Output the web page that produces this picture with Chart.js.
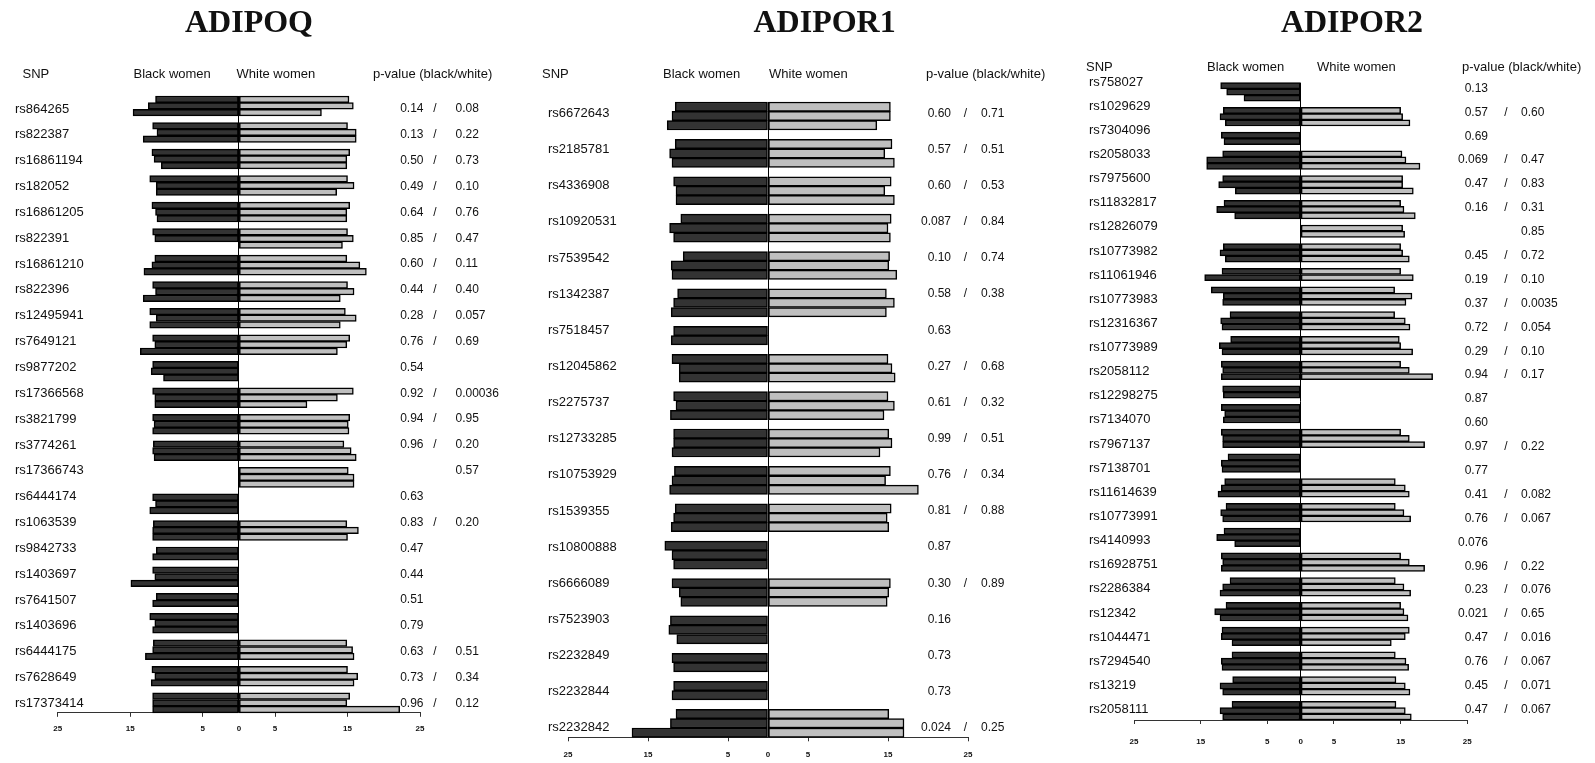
<!DOCTYPE html>
<html>
<head>
<meta charset="utf-8">
<title>Adiponectin gene SNPs – Black and White women</title>
<script src="https://cdn.jsdelivr.net/npm/chart.js@4.4.1/dist/chart.umd.min.js"></script>
<style>
  html, body { margin: 0; padding: 0; background: #ffffff; width: 1595px; height: 763px; overflow: hidden; }
  canvas { position: absolute; top: 0; }
</style>
</head>
<body>
<canvas id="adipoq" width="520" height="763" style="left:0px;width:520px;height:763px"></canvas>
<canvas id="adipor1" width="540" height="763" style="left:520px;width:540px;height:763px"></canvas>
<canvas id="adipor2" width="535" height="763" style="left:1060px;width:535px;height:763px"></canvas>
<script>
// Shared axis tick labels (absolute values on both sides of zero)
const axisTicks = [-25, -15, -5, 0, 5, 15, 25];
const columnHeaders = ['SNP', 'Black women', 'White women', 'p-value (black/white)'];

// ---------------- ADIPOQ ----------------
const adipoqSnps = ['rs864265', 'rs822387', 'rs16861194', 'rs182052', 'rs16861205', 'rs822391',
  'rs16861210', 'rs822396', 'rs12495941', 'rs7649121', 'rs9877202', 'rs17366568', 'rs3821799',
  'rs3774261', 'rs17366743', 'rs6444174', 'rs1063539', 'rs9842733', 'rs1403697', 'rs7641507',
  'rs1403696', 'rs6444175', 'rs7628649', 'rs17373414'];
const adipoqBlack = [[11.5, 12.5, 14.6], [11.9, 11.3, 13.2], [12.0, 11.7, 10.7], [12.3, 11.4, 11.4],
  [12.0, 11.5, 11.3], [11.9, 11.6], [11.6, 12.0, 13.1], [11.9, 11.5, 13.2], [12.3, 11.4, 12.3],
  [11.9, 11.6, 13.6], [11.9, 12.1, 10.4], [11.9, 11.6, 11.6], [11.9, 11.7, 11.9], [11.8, 11.9, 11.7],
  null, [11.9, 11.5, 12.3], [11.8, 11.9, 11.9], [11.4, 11.9], [11.9, 11.6, 14.9], [11.4, 11.9],
  [12.3, 11.6, 11.9], [11.8, 11.9, 12.9], [12.0, 11.6, 12.1], [11.9, 11.9, 11.9]];
const adipoqWhite = [[15.2, 15.8, 11.4], [15.0, 16.2, 16.2], [15.3, 14.9, 14.9], [15.0, 15.9, 13.5],
  [15.3, 14.9, 14.9], [15.0, 15.8, 14.3], [14.9, 16.7, 17.6], [15.0, 15.9, 14.0], [14.7, 16.2, 14.0],
  [15.3, 14.9, 13.6], null, [15.8, 13.6, 9.4], [15.3, 15.1, 15.2], [14.5, 15.5, 16.2],
  [15.1, 15.9, 15.9], null, [14.9, 16.5, 15.0], null, null, null, null,
  [14.9, 15.7, 15.9], [15.0, 16.4, 15.9], [15.3, 14.9, 22.2]];
const adipoqPBlack = ['0.14', '0.13', '0.50', '0.49', '0.64', '0.85', '0.60', '0.44', '0.28', '0.76',
  '0.54', '0.92', '0.94', '0.96', null, '0.63', '0.83', '0.47', '0.44', '0.51', '0.79', '0.63', '0.73', '0.96'];
const adipoqPWhite = ['0.08', '0.22', '0.73', '0.10', '0.76', '0.47', '0.11', '0.40', '0.057', '0.69',
  null, '0.00036', '0.95', '0.20', '0.57', null, '0.20', null, null, null, null, '0.51', '0.34', '0.12'];

// ---------------- ADIPOR1 ----------------
const adipor1Snps = ['rs6672643', 'rs2185781', 'rs4336908', 'rs10920531', 'rs7539542', 'rs1342387',
  'rs7518457', 'rs12045862', 'rs2275737', 'rs12733285', 'rs10753929', 'rs1539355', 'rs10800888',
  'rs6666089', 'rs7523903', 'rs2232849', 'rs2232844', 'rs2232842'];
const adipor1Black = [[11.6, 12.0, 12.6], [11.6, 12.3, 12.0], [11.8, 11.5, 11.5], [10.9, 12.3, 11.8],
  [10.6, 12.1, 12.0], [11.3, 11.8, 12.1], [11.8, 12.1], [12.0, 11.1, 11.1], [11.8, 11.5, 12.2],
  [11.8, 11.8, 12.0], [11.7, 12.0, 12.3], [11.6, 11.8, 12.1], [12.9, 12.0, 11.8], [12.0, 11.1, 10.9],
  [12.2, 12.4, 11.4], [12.0, 11.8], [11.8, 12.0], [11.5, 12.2, 17.0]];
const adipor1White = [[15.3, 15.3, 13.6], [15.5, 14.6, 15.8], [15.4, 14.6, 15.8], [15.4, 15.0, 15.3],
  [15.2, 15.1, 16.1], [14.8, 15.8, 14.8], null, [15.0, 15.5, 15.9], [15.0, 15.8, 14.5],
  [15.1, 15.5, 14.0], [15.3, 14.7, 18.8], [15.4, 14.9, 15.1], null, [15.3, 15.1, 14.9],
  null, null, null, [15.1, 17.0, 17.0]];
const adipor1PBlack = ['0.60', '0.57', '0.60', '0.087', '0.10', '0.58', '0.63', '0.27', '0.61', '0.99',
  '0.76', '0.81', '0.87', '0.30', '0.16', '0.73', '0.73', '0.024'];
const adipor1PWhite = ['0.71', '0.51', '0.53', '0.84', '0.74', '0.38', null, '0.68', '0.32', '0.51',
  '0.34', '0.88', null, '0.89', null, null, null, '0.25'];

// ---------------- ADIPOR2 ----------------
const adipor2Snps = ['rs758027', 'rs1029629', 'rs7304096', 'rs2058033', 'rs7975600', 'rs11832817',
  'rs12826079', 'rs10773982', 'rs11061946', 'rs10773983', 'rs12316367', 'rs10773989', 'rs2058112',
  'rs12298275', 'rs7134070', 'rs7967137', 'rs7138701', 'rs11614639', 'rs10773991', 'rs4140993',
  'rs16928751', 'rs2286384', 'rs12342', 'rs1044471', 'rs7294540', 'rs13219', 'rs2058111'];
const adipor2Black = [[12.0, 11.1, 8.5], [11.6, 12.1, 11.3], [11.9, 11.5], [11.7, 14.1, 14.1],
  [11.7, 12.3, 9.8], [11.5, 12.6, 9.9], null, [11.6, 12.1, 11.3], [11.8, 14.4], [13.4, 11.6, 11.7],
  [10.6, 12.0, 11.8], [10.5, 12.2, 11.8], [11.9, 11.7, 11.9], [11.7, 11.6], [11.9, 11.4, 11.6],
  [11.9, 11.7, 11.7], [10.9, 11.9, 11.8], [11.4, 11.9, 12.4], [11.2, 12.0, 11.7], [11.5, 12.6, 9.9],
  [11.9, 11.7, 11.9], [10.6, 11.7, 12.1], [11.2, 12.9, 12.1], [11.8, 11.9, 10.3], [10.3, 11.9, 11.8],
  [10.2, 12.1, 11.7], [10.3, 12.1, 11.7]];
const adipor2White = [null, [15.0, 15.3, 16.4], null, [15.2, 15.8, 17.9], [15.3, 15.3, 16.9],
  [15.0, 15.5, 17.2], [15.3, 15.6], [15.0, 15.3, 16.3], [15.0, 16.9], [14.1, 16.7, 15.8],
  [14.1, 15.7, 16.4], [14.8, 15.0, 16.8], [15.0, 16.3, 19.8], null, null, [15.0, 16.3, 18.6], null,
  [14.2, 15.7, 16.3], [14.2, 15.5, 16.5], null, [15.0, 16.3, 18.6], [14.2, 15.5, 16.5],
  [15.0, 15.5, 16.1], [16.3, 15.7, 13.6], [14.2, 15.8, 16.2], [14.3, 15.7, 16.4], [14.3, 15.7, 16.6]];
const adipor2PBlack = ['0.13', '0.57', '0.69', '0.069', '0.47', '0.16', null, '0.45', '0.19', '0.37',
  '0.72', '0.29', '0.94', '0.87', '0.60', '0.97', '0.77', '0.41', '0.76', '0.076', '0.96', '0.23',
  '0.021', '0.47', '0.76', '0.45', '0.47'];
const adipor2PWhite = [null, '0.60', null, '0.47', '0.83', '0.31', '0.85', '0.72', '0.10', '0.0035',
  '0.054', '0.10', '0.17', null, null, '0.22', null, '0.082', '0.067', null, '0.22', '0.076', '0.65',
  '0.016', '0.067', '0.071', '0.067'];

// ---------------- drawing ----------------
const SANS = '"Liberation Sans", Arial, Helvetica, sans-serif';
const SERIF = '"Liberation Serif", "Times New Roman", Times, serif';
const BLACK_FILL = '#333333';
const WHITE_FILL = '#bfbfbf';
const AXIS_H = 30;
const CANVAS_H = 763;

// Lay the genotype bars out row by row: one row per genotype, one empty row between SNPs.
function buildRows(black, white) {
  const blackPts = [], whitePts = [], centers = [];
  let pos = 0;
  black.forEach((b, k) => {
    const w = white[k];
    const n = Math.max(b ? b.length : 0, w ? w.length : 0);
    (b || []).forEach((v, j) => blackPts.push({ x: -v, y: pos + j + 0.5 }));
    (w || []).forEach((v, j) => whitePts.push({ x: v, y: pos + j + 0.5 }));
    centers.push(pos + n / 2);
    pos += n + 1;
  });
  return { blackPts, whitePts, centers, total: pos - 1 };
}

function makeTextPlugin(p) {
  return {
    id: 'panelText',
    afterDraw(chart) {
      const ctx = chart.ctx;
      const ys = chart.scales.y;
      ctx.save();
      ctx.fillStyle = '#111111';

      ctx.font = 'bold 32px ' + SERIF;
      ctx.textAlign = 'center';
      ctx.textBaseline = 'alphabetic';
      ctx.fillText(p.title, p.titleX, 32);

      ctx.font = '13px ' + SANS;
      ctx.textAlign = 'left';
      ctx.textBaseline = 'middle';
      columnHeaders.forEach((h, i) => ctx.fillText(h, p.headerX[i], p.headerY));

      const n = p.snps.length;
      const c0 = ys.getPixelForValue(p.rows.centers[0]);
      const c1 = ys.getPixelForValue(p.rows.centers[n - 1]);
      const lerp = (a, b, t) => a + (b - a) * t;
      p.snps.forEach((snp, k) => {
        const t = k / (n - 1);
        const yl = lerp(c0 + p.labelShift[0], c1 + p.labelShift[1], t);
        const yp = lerp(c0 + p.pShift[0], c1 + p.pShift[1], t);
        ctx.font = '13px ' + SANS;
        ctx.textAlign = 'left';
        ctx.fillText(snp, p.labelX, yl);

        ctx.font = '12px ' + SANS;
        const pb = p.pBlack[k], pw = p.pWhite[k];
        if (pb) { ctx.textAlign = 'right'; ctx.fillText(pb, p.pBlackX, yp); }
        if (pb && pw) { ctx.textAlign = 'center'; ctx.fillText('/', p.slashX, yp); }
        if (pw) { ctx.textAlign = 'left'; ctx.fillText(pw, p.pWhiteX, yp); }
      });
      ctx.restore();
    }
  };
}

function drawPanel(p) {
  const rows = buildRows(p.black, p.white);
  p.rows = rows;
  const canvas = document.getElementById(p.id);
  const W = canvas.width;
  const barStyle = {
    borderColor: '#000000',
    borderWidth: 1.5,
    borderSkipped: false,
    categoryPercentage: 1,
    barPercentage: 1,
    stack: 'genotype',
    clip: false
  };
  new Chart(canvas, {
    type: 'bar',
    data: {
      datasets: [
        Object.assign({ label: 'Black women', data: rows.blackPts, backgroundColor: BLACK_FILL }, barStyle),
        Object.assign({ label: 'White women', data: rows.whitePts, backgroundColor: WHITE_FILL }, barStyle)
      ]
    },
    options: {
      indexAxis: 'y',
      responsive: false,
      maintainAspectRatio: false,
      devicePixelRatio: 1,
      animation: false,
      events: [],
      layout: {
        padding: {
          left: p.area.left,
          right: W - p.area.right,
          top: p.area.top,
          bottom: CANVAS_H - AXIS_H - p.area.bottom
        }
      },
      plugins: { legend: { display: false }, tooltip: { enabled: false }, title: { display: false } },
      scales: {
        x: {
          type: 'linear',
          stacked: true,
          min: axisTicks[0],
          max: axisTicks[axisTicks.length - 1],
          afterBuildTicks: (s) => { s.ticks = axisTicks.map(v => ({ value: v })); },
          afterFit: (s) => { s.height = AXIS_H; },
          border: { display: true, color: '#333333', width: 1 },
          grid: {
            drawOnChartArea: true,
            drawTicks: true,
            tickLength: 4,
            lineWidth: 1,
            color: (c) => (c.tick && c.tick.value === 0 ? '#000000' : 'rgba(0,0,0,0)'),
            tickColor: (c) => (c.tick && c.tick.value === 0 ? 'rgba(0,0,0,0)' : '#333333')
          },
          ticks: {
            autoSkip: false,
            maxRotation: 0,
            padding: p.tickPad,
            color: '#111111',
            font: { family: SANS, size: 8, weight: 'bold' },
            callback: (v) => String(Math.abs(v))
          }
        },
        y: {
          type: 'linear',
          stacked: true,
          reverse: true,
          offset: false,
          display: false,
          min: 0,
          max: rows.total,
          afterBuildTicks: (s) => { s.ticks = [{ value: s.min }, { value: s.max }]; }
        }
      }
    },
    plugins: [makeTextPlugin(p)]
  });
}

const panels = [
  {
    id: 'adipoq', title: 'ADIPOQ', titleX: 249,
    snps: adipoqSnps, black: adipoqBlack, white: adipoqWhite, pBlack: adipoqPBlack, pWhite: adipoqPWhite,
    area: { left: 57.7, right: 420, top: 96, bottom: 712.8 },
    headerX: [22.5, 133.5, 236.5, 373], headerY: 74,
    labelX: 15, pBlackX: 423.5, slashX: 435, pWhiteX: 455.5,
    labelShift: [3, 0.6], pShift: [3, 0.6], tickPad: 7
  },
  {
    id: 'adipor1', title: 'ADIPOR1', titleX: 304.6,
    snps: adipor1Snps, black: adipor1Black, white: adipor1White, pBlack: adipor1PBlack, pWhite: adipor1PWhite,
    area: { left: 48, right: 448, top: 102, bottom: 737.3 },
    headerX: [22, 143, 249, 406], headerY: 74,
    labelX: 28, pBlackX: 431, slashX: 445.5, pWhiteX: 461,
    labelShift: [-2.5, 4.5], pShift: [-2.5, 4.5], tickPad: 8.5
  },
  {
    id: 'adipor2', title: 'ADIPOR2', titleX: 292,
    snps: adipor2Snps, black: adipor2Black, white: adipor2White, pBlack: adipor2PBlack, pWhite: adipor2PWhite,
    area: { left: 74, right: 407.3, top: 82.7, bottom: 720 },
    headerX: [26, 147, 257, 402], headerY: 67,
    labelX: 29, pBlackX: 428, slashX: 446, pWhiteX: 461,
    labelShift: [-10, -1.2], pShift: [-3.5, -1.2], tickPad: 12.5
  }
];

panels.forEach(drawPanel);
</script>
</body>
</html>
